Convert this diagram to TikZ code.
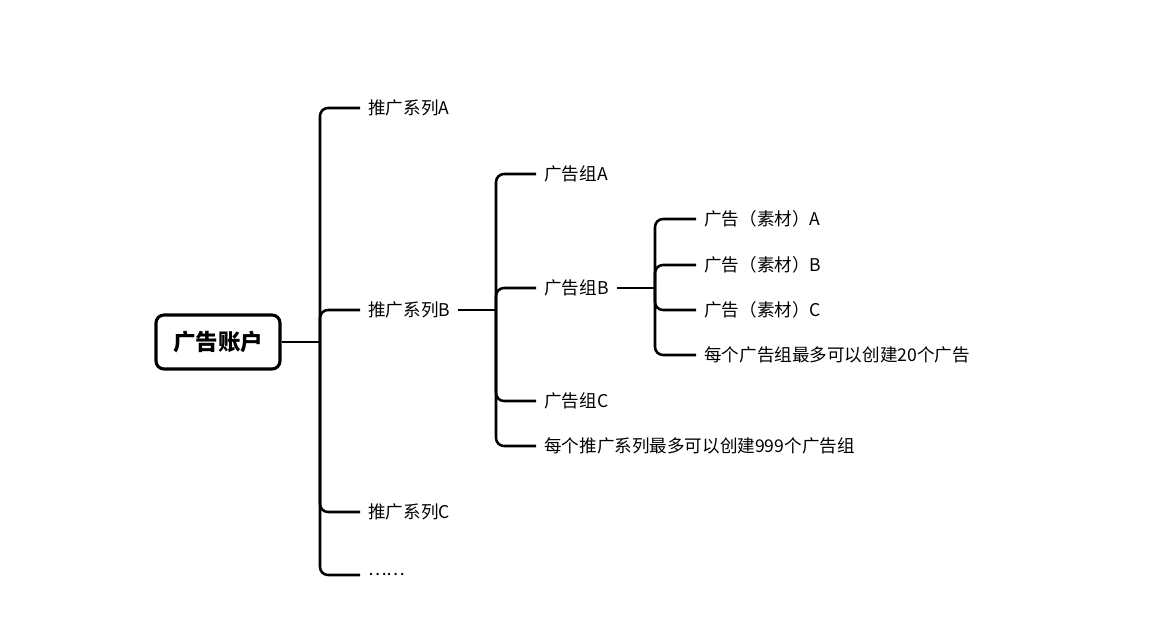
\documentclass[tikz,border=0pt]{standalone}
\usepackage{fontspec}
\setmainfont{Noto Sans CJK SC}
\usetikzlibrary{calc}

\begin{document}
\begin{tikzpicture}[x=0.025cm, y=-0.025cm, font=\fontsize{12.5}{14}\selectfont,
  item/.style={anchor=west, inner xsep=0.2cm, inner ysep=0pt},
  branch/.style={line width=1.8pt, rounded corners=0.2cm},
  rootbox/.style={draw, line width=2.2pt, rounded corners=0.2cm, minimum width=3.1cm,
    minimum height=1.35cm, font=\fontsize{16}{18}\selectfont\bfseries}]
  \useasboundingbox (0,0) rectangle (1155,630);

  % root
  \node[rootbox] (acct) at (218,342) {广告账户};
  \coordinate (j1) at (320,342);

  % level 1 -- campaigns
  \node[item] (sa) at (360,108) {推广系列A};
  \node[item] (sb) at (360,310) {推广系列B};
  \node[item] (sc) at (360,512) {推广系列C};
  \node[item] (sm) at (360,575) {……};
  \coordinate (j2) at (496,310);

  % level 2 -- ad groups
  \node[item] (ga) at (536,174) {广告组A};
  \node[item] (gb) at (536,288) {广告组B};
  \node[item] (gc) at (536,401) {广告组C};
  \node[item] (gn) at (536,446) {每个推广系列最多可以创建999个广告组};
  \coordinate (j3) at (655,288);

  % level 3 -- ads
  \node[item] (ka) at (696,219) {广告（素材）A};
  \node[item] (kb) at (696,265) {广告（素材）B};
  \node[item] (kc) at (696,310) {广告（素材）C};
  \node[item] (kn) at (696,355) {每个广告组最多可以创建20个广告};

  % connectors
  \draw[branch] (acct.east) -- (j1);
  \foreach \n in {sa,sb,sc,sm}
    \draw[branch] (j1) |- (\n.west);
  \draw[branch] (sb.east) -- (j2);
  \foreach \n in {ga,gb,gc,gn}
    \draw[branch] (j2) |- (\n.west);
  \draw[branch] (gb.east) -- (j3);
  \foreach \n in {ka,kb,kc,kn}
    \draw[branch] (j3) |- (\n.west);
\end{tikzpicture}
\end{document}
